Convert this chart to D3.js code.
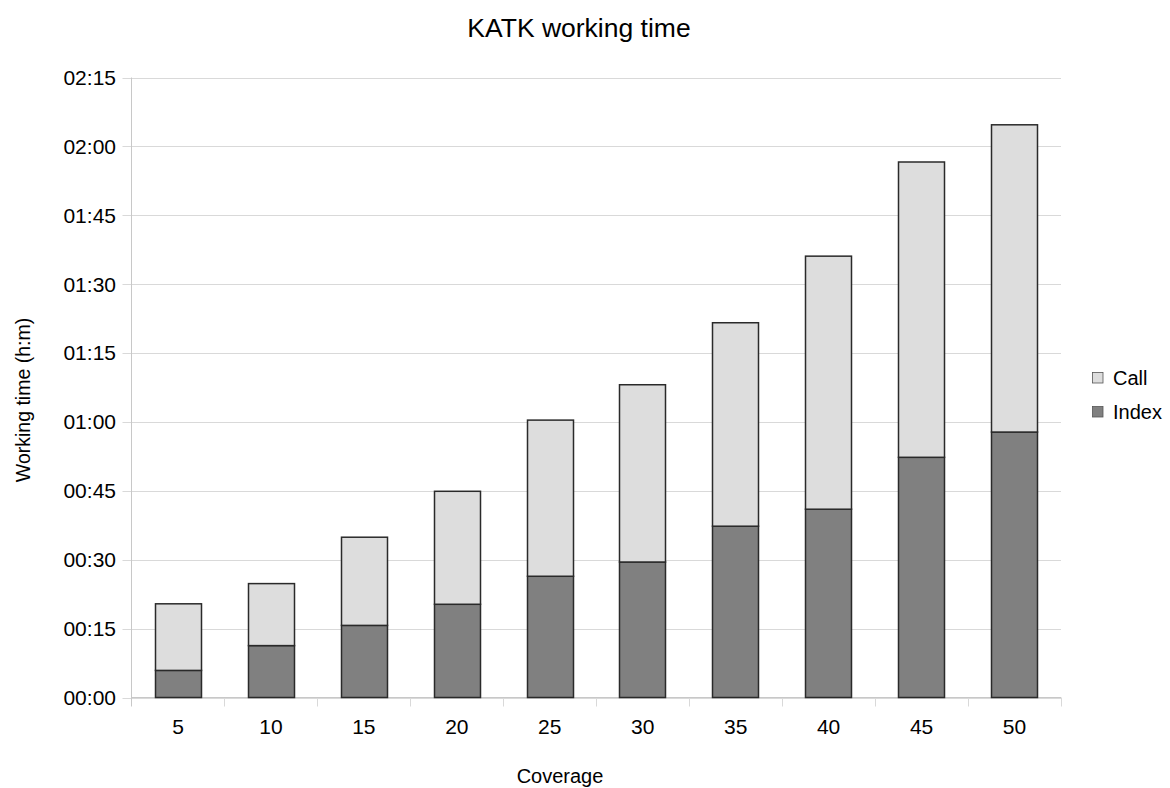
<!DOCTYPE html>
<html><head><meta charset="utf-8">
<script src="https://cdn.jsdelivr.net/npm/d3@7"></script>
<style>body{margin:0;background:#fff;font-family:"Liberation Sans",Arial,sans-serif;}</style>
</head><body>
<svg id="c" width="1170" height="788"></svg>
<script>
const categories = ["5","10","15","20","25","30","35","40","45","50"];
// minutes
const indexValues = [5.9, 11.3, 15.7, 20.3, 26.4, 29.5, 37.3, 41.0, 52.3, 57.8];
const callValues  = [14.5, 13.5, 19.2, 24.6, 34.0, 38.6, 44.3, 55.1, 64.3, 66.9];
const yTicks = [0,15,30,45,60,75,90,105,120,135];
const seriesNames = ["Index","Call"];
const colors = {Index:"#808080", Call:"#dddddd"};

const svg = d3.select("#c");
const L=131.5, R=1061, T=77.5, B=697.5;
const x = d3.scaleBand().domain(categories).range([L,R]).paddingInner(0.5).paddingOuter(0.25);
const xb = d3.scaleBand().domain(categories).range([L,R]);
const y = d3.scaleLinear().domain([0,135]).range([B,T]);
const fmt = m => String(Math.floor(m/60)).padStart(2,"0")+":"+String(m%60).padStart(2,"0");

// grid
svg.append("g").selectAll("line").data(yTicks).join("line")
  .attr("x1",L-9).attr("x2",R).attr("y1",d=>Math.round(y(d))+0.5).attr("y2",d=>Math.round(y(d))+0.5)
  .attr("stroke","#d9d9d9").attr("stroke-width",1);
// y axis line
svg.append("line").attr("x1",L).attr("x2",L).attr("y1",T).attr("y2",B+9).attr("stroke","#c8c8c8");
// x category ticks
svg.append("g").selectAll("line").data(categories).join("line")
  .attr("x1",(d,i)=>Math.round(L+xb.step()*(i+1))+0.5).attr("x2",(d,i)=>Math.round(L+xb.step()*(i+1))+0.5)
  .attr("y1",B).attr("y2",B+9).attr("stroke","#d9d9d9");
svg.append("line").attr("x1",L).attr("x2",R).attr("y1",B).attr("y2",B).attr("stroke","#c8c8c8");

// y labels
svg.append("g").selectAll("text").data(yTicks).join("text")
  .attr("x",116).attr("y",d=>y(d)).attr("dy","0.35em").attr("text-anchor","end")
  .attr("font-size",21).attr("fill","#000").text(fmt);
// x labels
svg.append("g").selectAll("text").data(categories).join("text")
  .attr("x",d=>x(d)+x.bandwidth()/2).attr("y",734).attr("text-anchor","middle")
  .attr("font-size",21).text(d=>d);

// stacked bars
const rows = categories.map((c,i)=>({cat:c, Index:indexValues[i], Call:callValues[i]}));
const stack = d3.stack().keys(seriesNames)(rows);
svg.append("g").selectAll("g").data(stack).join("g").attr("fill",d=>colors[d.key])
  .selectAll("rect").data(d=>d).join("rect")
  .attr("x",d=>Math.round(x(d.data.cat))+0.5).attr("width",Math.round(x.bandwidth()))
  .attr("y",d=>y(d[1])).attr("height",d=>y(d[0])-y(d[1]))
  .attr("stroke","#2a2a2a").attr("stroke-width",1.5);

// title
svg.append("text").attr("x",579).attr("y",37).attr("text-anchor","middle").attr("font-size",26.5).text("KATK working time");
svg.append("text").attr("x",560).attr("y",783).attr("text-anchor","middle").attr("font-size",20).text("Coverage");
svg.append("text").attr("transform","translate(30,400) rotate(-90)").attr("text-anchor","middle").attr("font-size",19.5).text("Working time (h:m)");

// legend
const leg = [{k:"Call",y:378},{k:"Index",y:412}];
const lg = svg.append("g").selectAll("g").data(leg).join("g");
lg.append("rect").attr("x",1092.5).attr("y",d=>d.y-5.5).attr("width",10.5).attr("height",10.5)
  .attr("fill",d=>colors[d.k]).attr("stroke","#555").attr("stroke-width",0.8);
lg.append("text").attr("x",1113).attr("y",d=>d.y).attr("dy","0.35em").attr("font-size",20).text(d=>d.k);
</script>
</body></html>
